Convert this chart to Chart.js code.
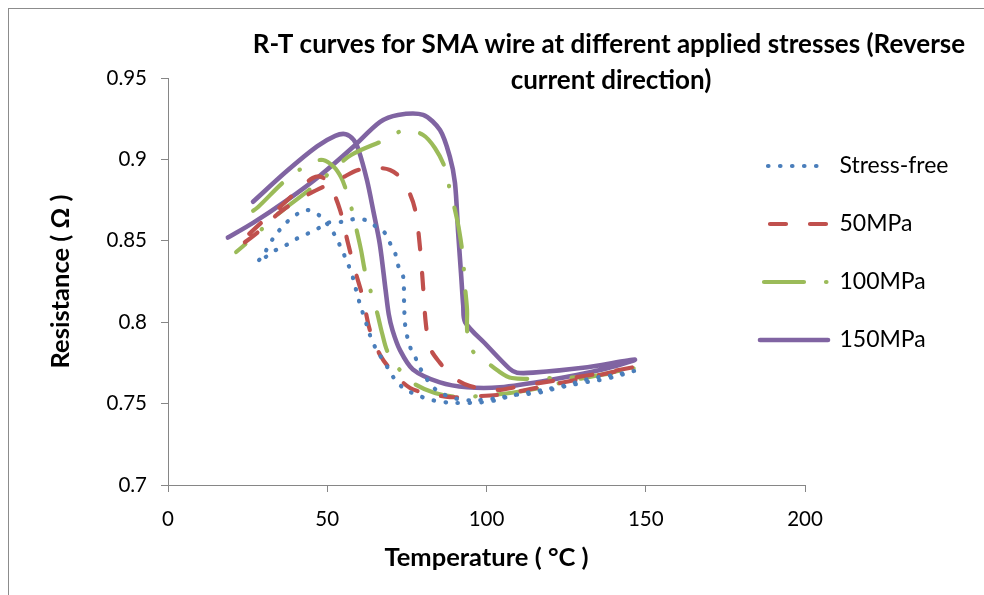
<!DOCTYPE html>
<html lang="en">
    <head>
        <meta charset="UTF-8" />
        <title>R-T curves</title>
        <script src="https://cdn.jsdelivr.net/npm/chart.js@4.4.1/dist/chart.umd.min.js"></script>
        <style>
            html, body { margin: 0; padding: 0; background: #fff; }
            #wrap { width: 984px; height: 595px; }
        </style>
    </head>
    <body>
        <div id="wrap"><canvas id="chart" width="984" height="595"></canvas></div>
        <script>
            // each series is one closed path: first branch from its low-T start, out to ~147 °C, back along the other branch
            const seriesNames = ["Stress-free", "50MPa", "100MPa", "150MPa"];

            const stressFreeT = [26.7, 29.8, 32.0, 36.1, 38.9, 43.0, 46.2, 48.4, 51.8, 54.9, 57.8, 59.7, 61.9, 64.4, 68.1, 72.8, 79.7, 86.3, 93.9, 101.7, 108.9, 115.9, 122.4, 130.0, 137.2, 144.4, 146.3,
                140.0, 133.0, 123.1, 110.5, 101.1, 93.2, 87.0, 83.2, 79.1, 77.6, 76.0, 75.0, 74.4, 74.1, 73.8, 72.2, 71.3, 69.7, 68.1, 65.0, 61.9, 58.7, 54.0, 49.6, 47.4, 44.3, 40.8, 37.7, 34.0, 31.0, 28.3];
            const stressFreeR = [0.835, 0.8407, 0.8486, 0.8591, 0.864, 0.8689, 0.8671, 0.864, 0.8554, 0.8431, 0.829, 0.8149, 0.8014, 0.7872, 0.7749, 0.7614, 0.7541, 0.751, 0.7504, 0.7516, 0.7553, 0.7565, 0.7596, 0.7627, 0.7651, 0.7688, 0.770,
                0.7675, 0.7655, 0.7605, 0.7559, 0.7528, 0.7522, 0.7553, 0.7602, 0.7719, 0.7786, 0.7848, 0.7921, 0.7995, 0.8136, 0.8284, 0.8351, 0.8425, 0.8486, 0.8548, 0.8591, 0.8628, 0.8634, 0.8615, 0.8609, 0.8579, 0.8548, 0.8517, 0.848, 0.8445, 0.8405, 0.837];

            const mpa50T = [23.2, 29.5, 35.2, 40.8, 45.5, 48.4, 50.9, 54.0, 56.5, 58.7, 61.2, 63.4, 66.6, 70.6, 76.0, 81.3, 88.5, 96.0, 103.3, 111.5, 119.9, 128.0, 135.6, 146.6,
                135.6, 120.9, 110.0, 103.3, 94.8, 89.5, 85.4, 82.3, 81.0, 80.1, 79.1, 77.6, 75.4, 72.8, 69.7, 65.6, 59.7, 54.0, 49.3, 41.4, 34.5, 28.3, 22.6];
            const mpa50R = [0.850, 0.8615, 0.8708, 0.881, 0.8886, 0.889, 0.8837, 0.869, 0.8486, 0.832, 0.8149, 0.795, 0.7799, 0.7694, 0.7596, 0.7565, 0.754, 0.7545, 0.7553, 0.758, 0.7614, 0.7645, 0.7676, 0.7725,
                0.7685, 0.764, 0.7605, 0.7584, 0.7608, 0.7663, 0.775, 0.7842, 0.7983, 0.8216, 0.8462, 0.869, 0.8812, 0.8892, 0.8935, 0.8947, 0.8935, 0.888, 0.8837, 0.8757, 0.8665, 0.8554, 0.8468];

            const mpa100T = [25.7, 28.3, 37.0, 44.9, 48.7, 52.1, 54.3, 55.6, 57.5, 59.0, 60.6, 61.9, 63.7, 65.6, 67.2, 69.1, 72.8, 76.9, 83.8, 90.7, 98.0, 107.4, 116.8, 123.1, 135.6, 147.3,
                141.9, 129.4, 118.4, 108.0, 103.3, 98.6, 94.8, 93.9, 93.9, 93.2, 92.6, 91.4, 90.1, 88.5, 87.0, 83.8, 80.1, 74.4, 68.1, 57.5, 51.8, 45.5, 36.1, 32.3, 27.6, 21.4];
            const mpa100R = [0.867, 0.8708, 0.8873, 0.8978, 0.8996, 0.8953, 0.8892, 0.883, 0.8708, 0.8585, 0.8444, 0.8308, 0.8186, 0.8063, 0.7934, 0.7811, 0.7706, 0.7627, 0.7565, 0.7541, 0.7547, 0.7565, 0.7596, 0.7627, 0.7676, 0.7725,
                0.7694, 0.7663, 0.7657, 0.7657, 0.7706, 0.778, 0.7842, 0.7952, 0.8075, 0.8229, 0.840, 0.8566, 0.8689, 0.8812, 0.8947, 0.907, 0.915, 0.918, 0.912, 0.9027, 0.8935, 0.883, 0.8689, 0.8628, 0.8536, 0.8431];

            const mpa150T = [26.7, 37.4, 46.8, 52.5, 55.8, 58.3, 59.8, 62.5, 64.5, 66.5, 68.3, 69.3, 70.5, 72.8, 76.9, 85.4, 93.9, 104.2, 119.9, 135.6, 146.6,
                130.3, 114.6, 109.6, 107.2, 100.0, 93.3, 92.7, 92.0, 91.1, 90.1, 88.5, 85.4, 80.1, 72.2, 66.6, 58.1, 47.7, 37.4, 26.7, 18.8];
            const mpa150R = [0.874, 0.893, 0.908, 0.9145, 0.9155, 0.912, 0.906, 0.887, 0.868, 0.848, 0.82, 0.805, 0.795, 0.783, 0.771, 0.763, 0.76, 0.76, 0.7645, 0.7706, 0.777,
                0.772, 0.769, 0.769, 0.7715, 0.786, 0.800, 0.810, 0.83, 0.855, 0.8855, 0.9015, 0.918, 0.9273, 0.9273, 0.923, 0.9076, 0.89, 0.875, 0.861, 0.852];

            const xTicks = [0, 50, 100, 150, 200];
            const yTicks = [0.7, 0.75, 0.8, 0.85, 0.9, 0.95];
            const yTickLabels = ["0.7", "0.75", "0.8", "0.85", "0.9", "0.95"];
            const titleLines = ["R-T curves for SMA wire at different applied stresses (Reverse", "current direction)"];

            const FONT = "Lato";
            const axisGrey = "#868686";

            function points(t, r) {
                return t.map((v, i) => ({ x: v, y: r[i] }));
            }

            function series(i, t, r, color, width, dash, dashOffset, tension) {
                return {
                    label: seriesNames[i],
                    data: points(t, r),
                    showLine: true,
                    borderColor: color,
                    backgroundColor: color,
                    borderWidth: width,
                    borderDash: dash,
                    borderDashOffset: dashOffset,
                    borderCapStyle: "round",
                    borderJoinStyle: "round",
                    pointRadius: 0,
                    pointHoverRadius: 0,
                    tension: tension,
                };
            }

            // frame around the whole chart + the two-line title
            const frameAndTitle = {
                id: "frameAndTitle",
                beforeDraw(chart) {
                    const ctx = chart.ctx;
                    ctx.save();
                    ctx.fillStyle = "#fff";
                    ctx.fillRect(0, 0, chart.width, chart.height);
                    ctx.strokeStyle = "#8c8c8c";
                    ctx.lineWidth = 1;
                    ctx.strokeRect(8.5, 8.5, chart.width + 20, chart.height + 20);
                    ctx.restore();
                },
                afterDraw(chart) {
                    const ctx = chart.ctx;
                    ctx.save();
                    ctx.fillStyle = "#000";
                    ctx.font = "bold 26px " + FONT;
                    ctx.textAlign = "center";
                    ctx.textBaseline = "middle";
                    ctx.fillText(titleLines[0], 609, 45);
                    ctx.fillText(titleLines[1], 611, 81);
                    ctx.restore();
                },
            };

            // legend sits over the right part of the plot, as in the original
            const placeLegend = {
                id: "placeLegend",
                afterLayout(chart) {
                    const lg = chart.legend;
                    lg.left = 725;
                    lg.top = 119.5;
                    lg.right = chart.width;
                    lg.bottom = chart.height;
                },
            };

            new Chart("chart", {
                type: "scatter",
                data: {
                    datasets: [
                        series(0, stressFreeT, stressFreeR, "#4A7EBB", 4.2, [0.5, 11.5], 4, 0.35),
                        series(1, mpa50T, mpa50R, "#C0504D", 4.2, [16, 24], 30, 0.35),
                        series(2, mpa100T, mpa100R, "#9BBB59", 4.2, [40, 22, 0.5, 22], 80.5, 0.35),
                        series(3, mpa150T, mpa150R, "#8064A2", 4.6, [], 0, 0.3),
                    ],
                },
                options: {
                    responsive: false,
                    animation: false,
                    layout: { padding: { left: 0, top: 78, right: 179, bottom: 0 } },
                    plugins: {
                        title: { display: false },
                        tooltip: { enabled: false },
                        legend: {
                            position: "chartArea",
                            align: "start",
                            labels: {
                                usePointStyle: true,
                                pointStyle: "line",
                                pointStyleWidth: 68,
                                padding: 35,
                                color: "#000",
                                font: { family: FONT, size: 23 },
                                generateLabels(chart) {
                                    const items = Chart.defaults.plugins.legend.labels.generateLabels(chart);
                                    items.forEach((it) => {
                                        const ds = chart.data.datasets[it.datasetIndex];
                                        it.lineDash = ds.borderDash;
                                        it.lineDashOffset = ds.borderDashOffset;
                                        it.lineWidth = ds.borderWidth;
                                        it.lineCap = "round";
                                        it.strokeStyle = ds.borderColor;
                                        it.pointStyle = "line";
                                    });
                                    return items;
                                },
                            },
                        },
                    },
                    scales: {
                        x: {
                            type: "linear",
                            position: "bottom",
                            min: 0,
                            max: 200,
                            afterBuildTicks: (s) => { s.ticks = xTicks.map((v) => ({ value: v })); },
                            afterFit: (s) => { s.height = 110; },
                            grid: { drawOnChartArea: false, drawTicks: true, tickLength: 7, color: axisGrey },
                            border: { display: true, color: axisGrey },
                            ticks: { color: "#000", font: { family: FONT, size: 20.5 }, padding: 15, autoSkip: false, maxRotation: 0 },
                            title: {
                                display: true,
                                text: "Temperature ( °C )",
                                color: "#000",
                                font: { family: FONT, size: 25.5, weight: "bold" },
                                padding: { top: 0, bottom: 22 },
                            },
                        },
                        y: {
                            type: "linear",
                            min: 0.7,
                            max: 0.95,
                            afterBuildTicks: (s) => { s.ticks = yTicks.map((v) => ({ value: v })); },
                            afterFit: (s) => { s.width = 168; },
                            grid: { drawOnChartArea: false, drawTicks: true, tickLength: 7, color: axisGrey },
                            border: { display: true, color: axisGrey },
                            ticks: {
                                color: "#000",
                                font: { family: FONT, size: 20.5 },
                                padding: 14,
                                callback: (v, i) => yTickLabels[i],
                            },
                            title: {
                                display: true,
                                text: "Resistance ( Ω )",
                                color: "#000",
                                font: { family: FONT, size: 25.5, weight: "bold" },
                                padding: { top: 45, bottom: 0 },
                            },
                        },
                    },
                },
                plugins: [frameAndTitle, placeLegend],
            });
        </script>
    </body>
</html>
